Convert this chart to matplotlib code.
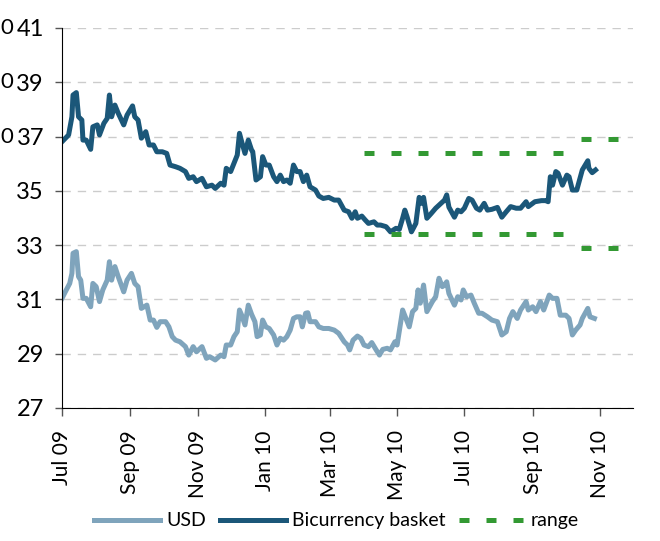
import matplotlib
matplotlib.use("Agg")
import matplotlib.pyplot as plt
import matplotlib.dates as mdates
import pandas as pd

plt.rcParams['font.family'] = ['Lato', 'DejaVu Sans']

start = pd.Timestamp('2009-07-01')

# days since 1 Jul 2009, index level
basket_days = [0, 6, 9, 10, 13, 15, 18, 19, 22, 26, 28, 32, 34, 38, 41, 43, 45, 48, 51, 56,
               59, 64, 66, 69, 72, 76, 79, 83, 86, 91, 95, 98, 103, 107, 112, 115, 119, 122,
               127, 131, 136, 139, 144, 147, 149, 153, 156, 159, 161, 163, 166, 169, 172,
               173, 176, 180, 182, 185, 188, 192, 195, 198, 201, 204, 207, 210, 213, 216,
               219, 222, 225, 230, 233, 237, 242, 247, 251, 256, 260, 263, 266, 268, 272,
               275, 278, 283, 286, 289, 294, 298, 303, 306, 309, 311, 313, 317, 321, 324,
               326, 328, 331, 335, 339, 344, 347, 349, 351, 356, 359, 362, 365, 369, 372,
               376, 379, 383, 386, 390, 395, 399, 403, 407, 412, 416, 421, 423, 425, 429,
               435, 439, 441, 443, 445, 448, 450, 454, 458, 460, 463, 467, 472, 477, 478,
               481, 484]
basket = [36.81, 37.06, 37.73, 38.53, 38.62, 37.73, 37.61, 36.87, 36.87, 36.53, 37.36, 37.43,
          37.06, 37.49, 37.67, 38.53, 37.73, 38.16, 37.86, 37.43, 37.79, 38.13, 37.73, 37.61,
          36.94, 37.18, 36.69, 36.69, 36.44, 36.44, 36.38, 35.95, 35.89, 35.83, 35.71, 35.46,
          35.52, 35.34, 35.46, 35.15, 35.21, 35.09, 35.28, 35.21, 35.83, 35.71, 36.01, 36.32,
          37.12, 36.81, 36.38, 36.87, 36.50, 36.45, 35.40, 35.52, 36.26, 35.95, 35.95, 35.52,
          35.34, 35.58, 35.34, 35.40, 35.28, 35.95, 35.71, 35.71, 35.34, 35.58, 35.15, 35.03,
          34.81, 34.72, 34.76, 34.66, 34.66, 34.29, 34.23, 33.99, 34.23, 33.99, 34.07, 33.93,
          33.80, 33.86, 33.74, 33.74, 33.68, 33.49, 33.62, 33.58, 33.99, 34.29, 34.05, 33.49,
          33.80, 34.76, 34.54, 34.76, 33.99, 34.17, 34.36, 34.55, 34.66, 34.85, 34.40, 34.03,
          34.29, 34.23, 34.36, 34.72, 34.66, 34.36, 34.29, 34.54, 34.29, 34.32, 34.39, 34.03,
          34.23, 34.42, 34.36, 34.36, 34.60, 34.42, 34.48, 34.60, 34.64, 34.64, 34.60, 35.52,
          35.21, 35.71, 35.65, 35.21, 35.58, 35.52, 35.03, 35.03, 35.77, 36.11, 35.83, 35.67,
          35.77]

usd_days = [0, 3, 7, 9, 10, 13, 15, 17, 19, 22, 26, 28, 31, 34, 37, 41, 43, 45, 48, 51, 56,
            59, 63, 66, 69, 72, 77, 80, 83, 86, 89, 94, 97, 100, 103, 107, 112, 115, 119, 122,
            127, 131, 134, 139, 144, 147, 149, 153, 156, 159, 161, 163, 166, 169, 172, 175,
            177, 180, 182, 185, 188, 192, 195, 198, 201, 204, 207, 210, 213, 216, 218, 221,
            223, 225, 230, 233, 237, 242, 247, 251, 256, 259, 261, 264, 268, 271, 274, 278,
            281, 285, 288, 291, 295, 298, 302, 304, 309, 312, 315, 318, 321, 323, 325, 328,
            331, 336, 339, 342, 345, 347, 349, 351, 356, 359, 362, 364, 367, 371, 374, 378,
            381, 386, 390, 395, 399, 403, 406, 409, 413, 416, 421, 423, 427, 430, 434, 437,
            442, 445, 449, 452, 457, 460, 463, 466, 470, 472, 477, 479, 483]
usd = [31.04, 31.28, 31.59, 31.96, 32.70, 32.76, 31.84, 31.71, 31.04, 31.04, 30.73, 31.59,
       31.47, 30.92, 31.35, 31.71, 32.39, 31.71, 32.21, 31.84, 31.28, 31.71, 31.96, 31.59,
       31.47, 30.67, 30.79, 30.24, 30.24, 29.97, 30.18, 30.18, 29.99, 29.63, 29.50, 29.44,
       29.26, 28.95, 29.26, 29.07, 29.26, 28.83, 28.89, 28.77, 28.95, 28.89, 29.32, 29.32,
       29.63, 29.81, 30.61, 30.42, 30.06, 30.79, 30.45, 30.18, 29.63, 29.69, 30.24, 29.99,
       29.93, 29.69, 29.32, 29.57, 29.50, 29.63, 29.87, 30.30, 30.36, 30.36, 29.99, 30.49,
       30.51, 30.18, 30.18, 29.99, 29.93, 29.93, 29.87, 29.75, 29.44, 29.32, 29.14, 29.50,
       29.65, 29.57, 29.32, 29.26, 29.41, 29.14, 28.95, 29.16, 29.20, 29.14, 29.44, 29.32,
       30.61, 30.30, 29.99, 30.55, 30.67, 31.35, 30.86, 31.53, 30.55, 30.92, 31.10, 31.78,
       31.47, 31.53, 31.65, 31.22, 30.79, 31.10, 30.98, 31.35, 31.10, 31.16, 30.86, 30.49,
       30.49, 30.36, 30.24, 30.18, 29.69, 29.81, 30.30, 30.55, 30.30, 30.61, 30.92, 30.61,
       30.73, 30.55, 30.92, 30.61, 31.16, 31.04, 31.04, 30.42, 30.42, 30.30, 29.69, 29.87,
       30.06, 30.30, 30.67, 30.36, 30.30]

# range bands: (start, end, upper, lower)
range_periods = [('2010-04-01', '2010-10-04', 36.4, 33.4),
                 ('2010-10-15', '2010-11-18', 36.9, 32.9)]

c_usd = '#7fa4bc'
c_basket = '#1b5779'
c_range = '#339933'

fig = plt.figure(figsize=(6.6, 5.41), dpi=100)
ax = fig.add_axes([62 / 660, 1 - 408 / 541, (633 - 62) / 660, (408 - 28) / 541])

usd_dates = start + pd.to_timedelta(usd_days, unit='D')
basket_dates = start + pd.to_timedelta(basket_days, unit='D')

ax.plot(usd_dates, usd, color=c_usd, lw=3.6, label='USD', solid_joinstyle='round')
ax.plot(basket_dates, basket, color=c_basket, lw=3.6, label='Bicurrency basket',
        solid_joinstyle='round')
for i, (d0, d1, hi, lo) in enumerate(range_periods):
    xs = [pd.Timestamp(d0), pd.Timestamp(d1)]
    lab = 'range' if i == 0 else None
    ax.plot(xs, [hi, hi], color=c_range, lw=3.6, dashes=(2.0, 3.4), dash_capstyle='butt',
            label=lab)
    ax.plot(xs, [lo, lo], color=c_range, lw=3.6, dashes=(2.0, 3.4), dash_capstyle='butt')

ax.set_ylim(27, 41)
ax.set_yticks(range(27, 42, 2))
ax.set_xlim(start, pd.Timestamp('2010-12-01'))
ax.xaxis.set_major_locator(mdates.MonthLocator(bymonth=[1, 3, 5, 7, 9, 11]))
ax.xaxis.set_major_formatter(mdates.DateFormatter('%b %y'))
for s in ['top', 'right']:
    ax.spines[s].set_visible(False)
ax.yaxis.grid(True, color='#cccccc', lw=1, dashes=(6, 5))
ax.set_axisbelow(True)
ax.tick_params(axis='y', length=5, width=1, pad=8, labelsize=17)
ax.tick_params(axis='x', length=6, width=1, pad=10, labelsize=15, labelrotation=90,
               colors='#555555', labelcolor='black')
ax.tick_params(axis='y', colors='#555555', labelcolor='black')

# last digit of the neighbouring chart's labels, visible at the left edge
for yv in [41, 39, 37]:
    fig.text(0.001, ax.transData.transform((0, yv))[1] / fig.bbox.height, '0',
             ha='left', va='center', fontsize=16)

fig.legend(loc='center', bbox_to_anchor=(0.51, 0.037), ncol=3, frameon=False, fontsize=14,
           handlelength=3.4, handletextpad=0.3, columnspacing=0.7)

fig.savefig('out.png', dpi=100)
